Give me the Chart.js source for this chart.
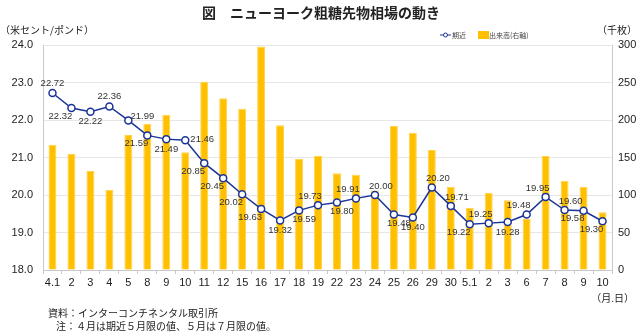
<!DOCTYPE html>
<html>
<head>
<meta charset="utf-8">
<script src="https://cdn.jsdelivr.net/npm/chart.js@4"></script>
<style>
  body { margin: 0; background: #fff; }
</style>
</head>
<body>
<canvas id="sugarChart" width="640" height="334"></canvas>
<script>
// dates (month.day)
const dates = ['4.1', '2', '3', '4', '5', '8', '9', '10', '11', '12', '15', '16', '17', '18', '19',
               '22', '23', '24', '25', '26', '29', '30', '5.1', '2', '3', '6', '7', '8', '9', '10'];
// front month price, US cents / lb
const prices = [22.72, 22.32, 22.22, 22.36, 21.99, 21.59, 21.49, 21.46, 20.85, 20.45, 20.02, 19.63, 19.32, 19.59, 19.73,
                19.80, 19.91, 20.00, 19.48, 19.40, 20.20, 19.71, 19.22, 19.25, 19.28, 19.48, 19.95, 19.60, 19.58, 19.30];
// trading volume, thousand lots (right axis)
const volume = [167, 155, 132, 107, 180, 195, 207, 157, 251, 229, 215, 298, 193, 148, 152,
                129, 127, 106, 192, 183, 160, 111, 83, 103, 93, 68, 152, 119, 111, 77];
const leftTicks = [18, 19, 20, 21, 22, 23, 24];
const rightTicks = [0, 50, 100, 150, 200, 250, 300];

// where each price label sits relative to its point
const labelPos = ['a', 'bl', 'b', 'a', 'ra', 'bl', 'b', 'r', 'bl', 'bl', 'bl', 'bl', 'b', 'br', 'al',
                  'br', 'al', 'ar', 'br', 'b', 'ar', 'ar', 'bl', 'al', 'b', 'al', 'al', 'ar', 'bl', 'bl'];
const offsets = {
  a: [0, -10], b: [0, 10], al: [-8, -9], ar: [6, -9],
  bl: [-11, 8], br: [5, 9], r: [17, -1], ra: [14, -4]
};

const FONT = "'Liberation Sans', 'Noto Sans CJK JP', sans-serif";
const JP = "'Noto Sans CJK JP', sans-serif";

// value labels on the line
const priceLabels = {
  id: 'priceLabels',
  afterDatasetsDraw(chart) {
    const ctx = chart.ctx;
    const meta = chart.getDatasetMeta(0);
    ctx.save();
    ctx.font = '9.5px ' + FONT;
    ctx.fillStyle = '#333';
    ctx.textAlign = 'center';
    ctx.textBaseline = 'middle';
    meta.data.forEach((pt, i) => {
      const o = offsets[labelPos[i]];
      ctx.fillText(prices[i].toFixed(2), pt.x + o[0], pt.y + o[1]);
    });
    ctx.restore();
  }
};

// title, unit captions, legend and notes
const extraText = {
  id: 'extraText',
  afterDraw(chart) {
    const ctx = chart.ctx;
    ctx.save();
    ctx.fillStyle = '#222';
    ctx.textBaseline = 'middle';

    ctx.font = 'bold 14px ' + JP;
    ctx.textAlign = 'center';
    ctx.fillText('図　ニューヨーク粗糖先物相場の動き', 321, 13);

    ctx.font = '10px ' + JP;
    ctx.textAlign = 'left';
    ctx.fillText('（米セント/ポンド）', 0, 30);
    ctx.textAlign = 'right';
    ctx.fillText('（千枚）', 637, 30);
    ctx.fillText('（月.日）', 634, 298);

    ctx.textAlign = 'left';
    ctx.fillText('資料：インターコンチネンタル取引所', 48, 313);
    ctx.fillText('注：４月は期近５月限の値、５月は７月限の値。', 56, 326);

    // legend
    const ly = 35;
    ctx.strokeStyle = '#1a3399';
    ctx.lineWidth = 1;
    ctx.beginPath();
    ctx.moveTo(440, ly);
    ctx.lineTo(451, ly);
    ctx.stroke();
    ctx.fillStyle = '#fff';
    ctx.beginPath();
    ctx.arc(445.5, ly, 2, 0, Math.PI * 2);
    ctx.fill();
    ctx.stroke();
    ctx.fillStyle = '#444';
    ctx.font = '7px ' + JP;
    ctx.fillText('期近', 452, ly);
    ctx.fillStyle = '#ffc000';
    ctx.fillRect(478, ly - 4, 11, 8);
    ctx.fillStyle = '#444';
    ctx.fillText('出来高(右軸)', 489, ly);
    ctx.restore();
  }
};

const config = {
  data: {
    labels: dates,
    datasets: [{
      type: 'line',
      label: '期近',
      data: prices,
      yAxisID: 'y',
      borderColor: '#1a3399',
      borderWidth: 1.5,
      pointRadius: 3.5,
      pointBorderWidth: 1.5,
      pointBackgroundColor: '#fff',
      pointBorderColor: '#1a3399',
      order: 0
    }, {
      type: 'bar',
      label: '出来高（右軸）',
      data: volume,
      yAxisID: 'y2',
      backgroundColor: '#ffc000',
      borderColor: '#ffd24d',
      borderWidth: 1,
      categoryPercentage: 1,
      barPercentage: 0.42,
      order: 1
    }]
  },
  options: {
    responsive: false,
    animation: false,
    layout: { padding: { top: 45, left: 0, right: 0, bottom: 0 } },
    plugins: {
      legend: { display: false },
      tooltip: { enabled: false }
    },
    scales: {
      x: {
        offset: true,
        grid: { offset: true, drawOnChartArea: false, drawTicks: true, tickLength: 4, color: '#c8c8c8' },
        border: { color: '#c8c8c8' },
        ticks: { color: '#222', font: { family: FONT, size: 11 }, padding: 2, maxRotation: 0, autoSkip: false },
        afterFit(s) { s.height = 64; }
      },
      y: {
        position: 'left',
        min: 18, max: 24,
        afterBuildTicks(s) { s.ticks = leftTicks.map(v => ({ value: v })); },
        grid: { color: '#e6e6e6', drawTicks: false },
        border: { color: '#c8c8c8' },
        ticks: { color: '#222', font: { family: FONT, size: 11 }, padding: 10, callback: v => v.toFixed(1) },
        afterFit(s) { s.width = 43; }
      },
      y2: {
        position: 'right',
        min: 0, max: 300,
        afterBuildTicks(s) { s.ticks = rightTicks.map(v => ({ value: v })); },
        grid: { drawOnChartArea: false, drawTicks: false },
        border: { color: '#c8c8c8' },
        ticks: { color: '#222', font: { family: FONT, size: 11 }, padding: 6 },
        afterFit(s) { s.width = 28; }
      }
    }
  },
  plugins: [priceLabels, extraText]
};

const sugarChart = new Chart(document.getElementById('sugarChart'), config);
</script>
</body>
</html>
